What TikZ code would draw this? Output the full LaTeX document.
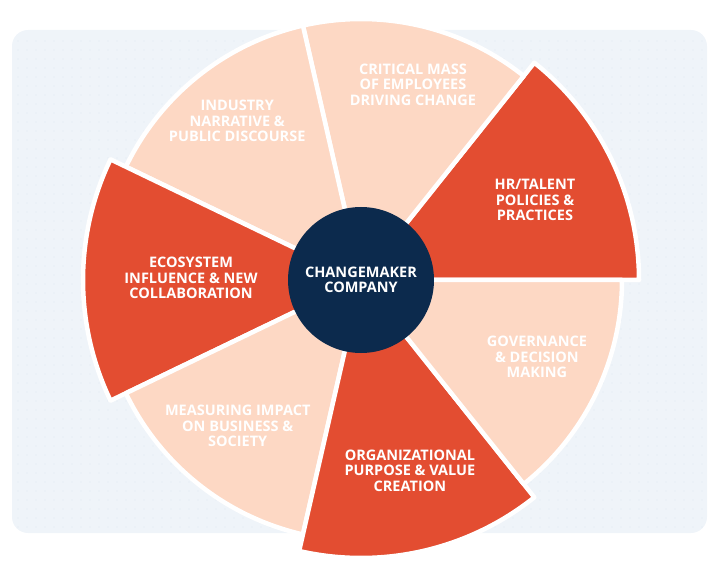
\documentclass[tikz,border=0pt]{standalone}
\usepackage{fontspec}
\setmainfont{Open Sans}
\definecolor{wheelred}{HTML}{E34D31}
\definecolor{wheelpeach}{HTML}{FDD8C4}
\definecolor{hubnavy}{HTML}{0C2A4D}
\definecolor{panel}{HTML}{EFF4F9}
\definecolor{paneldot}{HTML}{DEE8F2}
\begin{document}
\begin{tikzpicture}[x=1pt,y=1pt,
  sector/.style={draw=white,line width=4.5pt,line join=round},
  tag/.style={text=white,font=\bfseries\fontsize{14.5}{15.5}\selectfont,align=center,inner sep=0pt},
  hub/.style={circle,fill=hubnavy,minimum size=146pt}]
  \useasboundingbox (0,0) rectangle (720,563);
  \fill[panel,rounded corners=16pt] (12,30) rectangle (707,533);
  \foreach \x in {18,27,...,702}
    \foreach \y in {36,45,...,528}
      \fill[paneldot] (\x,\y) circle (0.6);
  \coordinate (c) at (361,283);
  % wheel: 7 sectors, red ones stick out
  \foreach \i/\r/\col in {0/278/wheelred,1/261/wheelpeach,2/261/wheelpeach,
      3/278/wheelred,4/261/wheelpeach,5/278/wheelred,6/261/wheelpeach}{
    \pgfmathsetmacro\a{\i*360/7}
    \filldraw[sector,fill=\col] (c) -- ++(\a:\r)
      arc[start angle=\a,delta angle=360/7,radius=\r] -- cycle;
  }
  \node[hub,tag] (core) at (c) {CHANGEMAKER\\COMPANY};
  \node[tag] (hr) at ([shift={(24.7:191.5)}]c) {HR/TALENT\\POLICIES \&\\PRACTICES};
  \node[tag] (mass) at ([shift={(75.1:202)}]c) {CRITICAL MASS\\OF EMPLOYEES\\DRIVING CHANGE};
  \node[tag] (narrative) at ([shift={(127.9:201.6)}]c) {INDUSTRY\\NARRATIVE \&\\PUBLIC DISCOURSE};
  \node[tag] (ecosystem) at ([shift={(179.3:170)}]c) {ECOSYSTEM\\INFLUENCE \& NEW\\COLLABORATION};
  \node[tag] (impact) at ([shift={(229.8:191)}]c) {MEASURING IMPACT\\ON BUSINESS \&\\SOCIETY};
  \node[tag] (purpose) at ([shift={(284.4:196.7)}]c) {ORGANIZATIONAL\\PURPOSE \& VALUE\\CREATION};
  \node[tag] (governance) at ([shift={(-23.6:192)}]c) {GOVERNANCE\\\& DECISION\\MAKING};
\end{tikzpicture}
\end{document}
